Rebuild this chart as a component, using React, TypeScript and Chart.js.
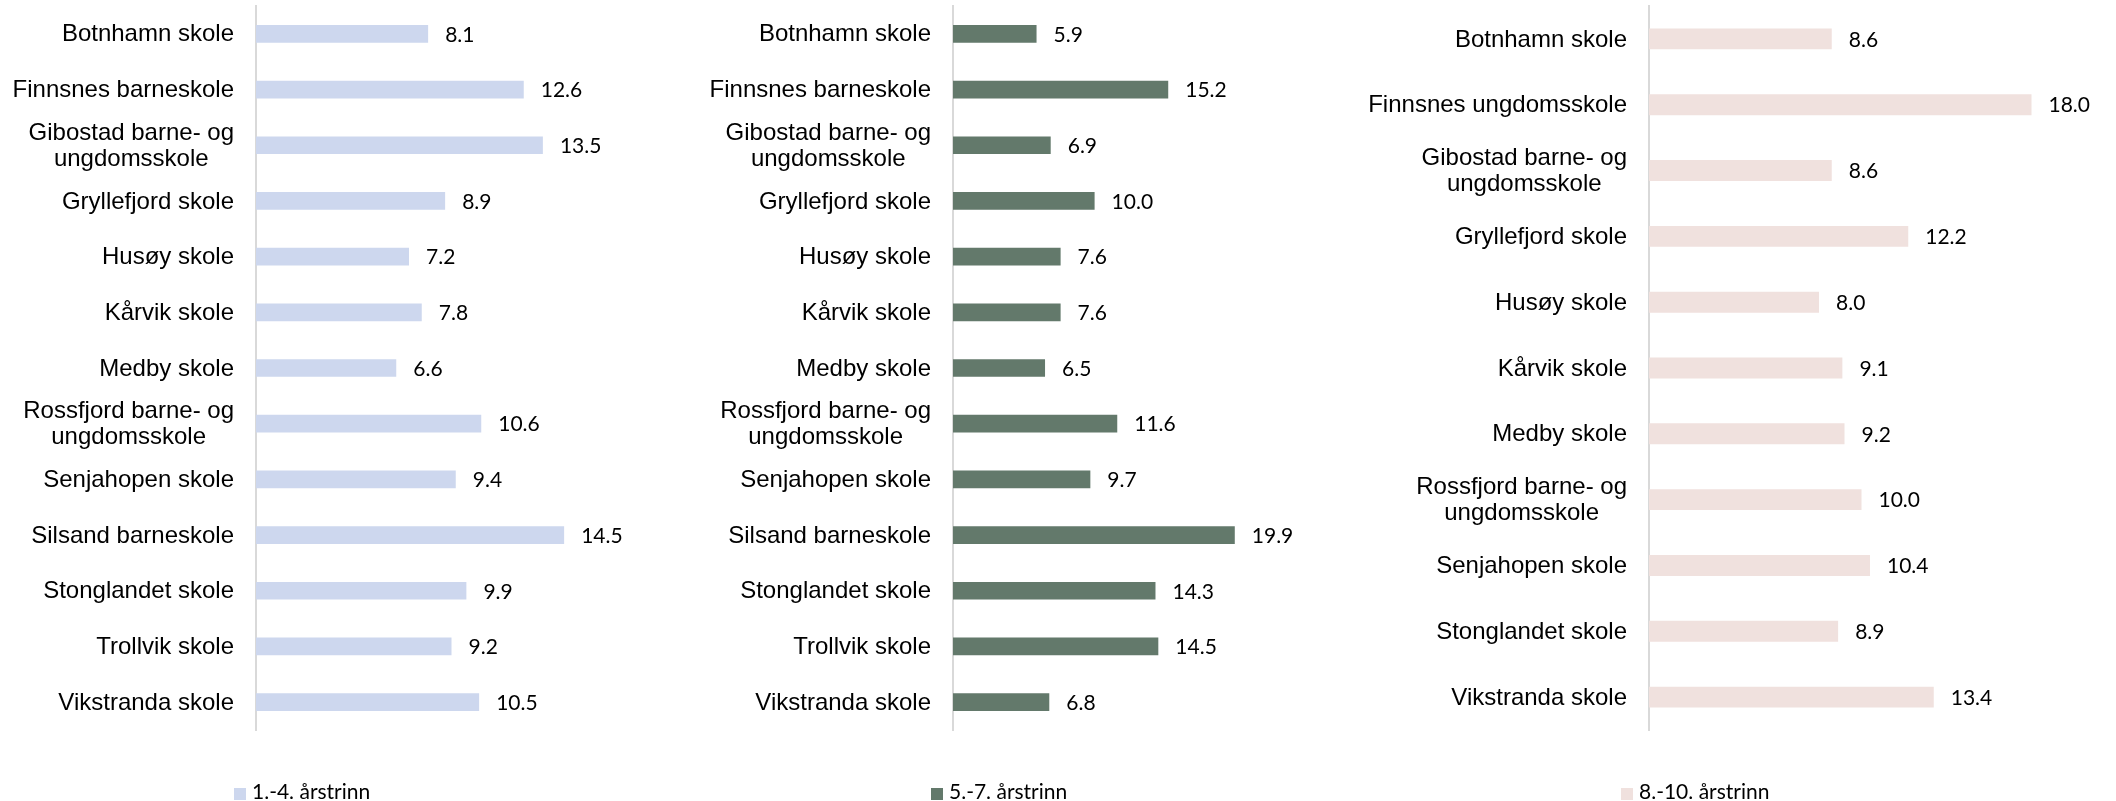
import React, { useEffect, useRef } from "react";
import { Chart, registerables } from "chart.js";

Chart.register(...registerables);

// ---------- data ----------
const schools1_7: (string | string[])[] = [
  "Botnhamn skole",
  "Finnsnes barneskole",
  ["Gibostad barne- og", "ungdomsskole"],
  "Gryllefjord skole",
  "Husøy skole",
  "Kårvik skole",
  "Medby skole",
  ["Rossfjord barne- og", "ungdomsskole"],
  "Senjahopen skole",
  "Silsand barneskole",
  "Stonglandet skole",
  "Trollvik skole",
  "Vikstranda skole",
];
const values1_4 = [8.1, 12.6, 13.5, 8.9, 7.2, 7.8, 6.6, 10.6, 9.4, 14.5, 9.9, 9.2, 10.5];
const values5_7 = [5.9, 15.2, 6.9, 10.0, 7.6, 7.6, 6.5, 11.6, 9.7, 19.9, 14.3, 14.5, 6.8];

const schools8_10: (string | string[])[] = [
  "Botnhamn skole",
  "Finnsnes ungdomsskole",
  ["Gibostad barne- og", "ungdomsskole"],
  "Gryllefjord skole",
  "Husøy skole",
  "Kårvik skole",
  "Medby skole",
  ["Rossfjord barne- og", "ungdomsskole"],
  "Senjahopen skole",
  "Stonglandet skole",
  "Vikstranda skole",
];
const values8_10 = [8.6, 18.0, 8.6, 12.2, 8.0, 9.1, 9.2, 10.0, 10.4, 8.9, 13.4];

const seriesNames = ["1.-4. årstrinn", "5.-7. årstrinn", "8.-10. årstrinn"];
const axisMax = [16, 25, 20];

// ---------- styling ----------
const colors = ["#CDD7EE", "#63796B", "#F0E1DE"];

type PanelCfg = {
  left: number;
  width: number;
  axisWidth: number;
  padRight: number;
  labels: (string | string[])[];
  values: number[];
  color: string;
  max: number;
  name: string;
  legendX: number;
};

const panels: PanelCfg[] = [
  { left: 0, width: 700, axisWidth: 256, padRight: 104, labels: schools1_7, values: values1_4, color: colors[0], max: axisMax[0], name: seriesNames[0], legendX: 234 },
  { left: 650, width: 750, axisWidth: 303, padRight: 93, labels: schools1_7, values: values5_7, color: colors[1], max: axisMax[1], name: seriesNames[1], legendX: 931 },
  { left: 1300, width: 816, axisWidth: 349, padRight: 42, labels: schools8_10, values: values8_10, color: colors[2], max: axisMax[2], name: seriesNames[2], legendX: 1621 },
];

const H = 801;

const labelPlugin = {
  id: "customLabels",
  afterDatasetsDraw(chart: any) {
    const ctx = chart.ctx as CanvasRenderingContext2D;
    const yScale = chart.scales.y;
    const left = chart.chartArea.left;
    ctx.save();
    ctx.fillStyle = "#000000";
    ctx.textBaseline = "middle";
    ctx.font = '24px "Liberation Sans", Arial, sans-serif';
    ctx.textAlign = "center";
    (chart.data.labels as (string | string[])[]).forEach((lab, i) => {
      const lines = Array.isArray(lab) ? lab : [lab];
      const y = yScale.getPixelForValue(i);
      const maxW = Math.max(...lines.map((l) => ctx.measureText(l).width));
      const cx = left - 22 - maxW / 2;
      lines.forEach((l, j) => {
        ctx.fillText(l, cx, y + 1 + (j - (lines.length - 1) / 2) * 26);
      });
    });
    ctx.font = '21px Lato, "Noto Sans", sans-serif';
    ctx.textAlign = "left";
    const meta = chart.getDatasetMeta(0);
    const data = chart.data.datasets[0].data as number[];
    meta.data.forEach((bar: any, i: number) => {
      ctx.fillText(Number(data[i]).toFixed(1), bar.x + 17, bar.y + 1);
    });
    ctx.restore();
  },
};

function Panel({ cfg }: { cfg: PanelCfg }) {
  const ref = useRef<HTMLCanvasElement>(null);
  useEffect(() => {
    if (!ref.current) return;
    const chart = new Chart(ref.current, {
      type: "bar",
      data: {
        labels: cfg.labels as any,
        datasets: [
          {
            label: cfg.name,
            data: cfg.values,
            backgroundColor: cfg.color,
            borderWidth: 0,
            barPercentage: 0.318,
            categoryPercentage: 1,
          },
        ],
      },
      options: {
        indexAxis: "y",
        animation: false,
        responsive: false,
        events: [],
        layout: { padding: { left: 0, right: cfg.padRight, top: 6, bottom: H - 730 } },
        plugins: { legend: { display: false }, tooltip: { enabled: false } },
        scales: {
          x: { display: false, min: 0, max: cfg.max },
          y: {
            type: "category",
            grid: { display: false, drawTicks: false },
            border: { display: true, color: "#D9D9D9", width: 2 },
            ticks: { display: false },
            afterFit: (s: any) => {
              s.width = cfg.axisWidth;
            },
          },
        },
      },
      plugins: [labelPlugin],
    });
    return () => chart.destroy();
  }, [cfg]);
  return (
    <canvas
      ref={ref}
      width={cfg.width}
      height={H}
      style={{ position: "absolute", left: cfg.left, top: 0, width: cfg.width, height: H }}
    />
  );
}

export default function App() {
  return (
    <div style={{ position: "absolute", left: 0, top: 0, width: 2116, height: H, background: "#fff", overflow: "hidden" }}>
      {panels.map((p, i) => (
        <Panel key={i} cfg={p} />
      ))}
      {panels.map((p, i) => (
        <React.Fragment key={"lg" + i}>
          <div
            style={{
              position: "absolute",
              left: p.legendX,
              top: 788,
              width: 12,
              height: 12,
              background: p.color,
            }}
          />
          <div
            style={{
              position: "absolute",
              left: p.legendX + 18,
              top: 780,
              fontFamily: 'Lato, "Noto Sans", sans-serif',
              fontSize: 21,
              lineHeight: "21px",
              color: "#000",
              whiteSpace: "nowrap",
            }}
          >
            {p.name}
          </div>
        </React.Fragment>
      ))}
    </div>
  );
}
